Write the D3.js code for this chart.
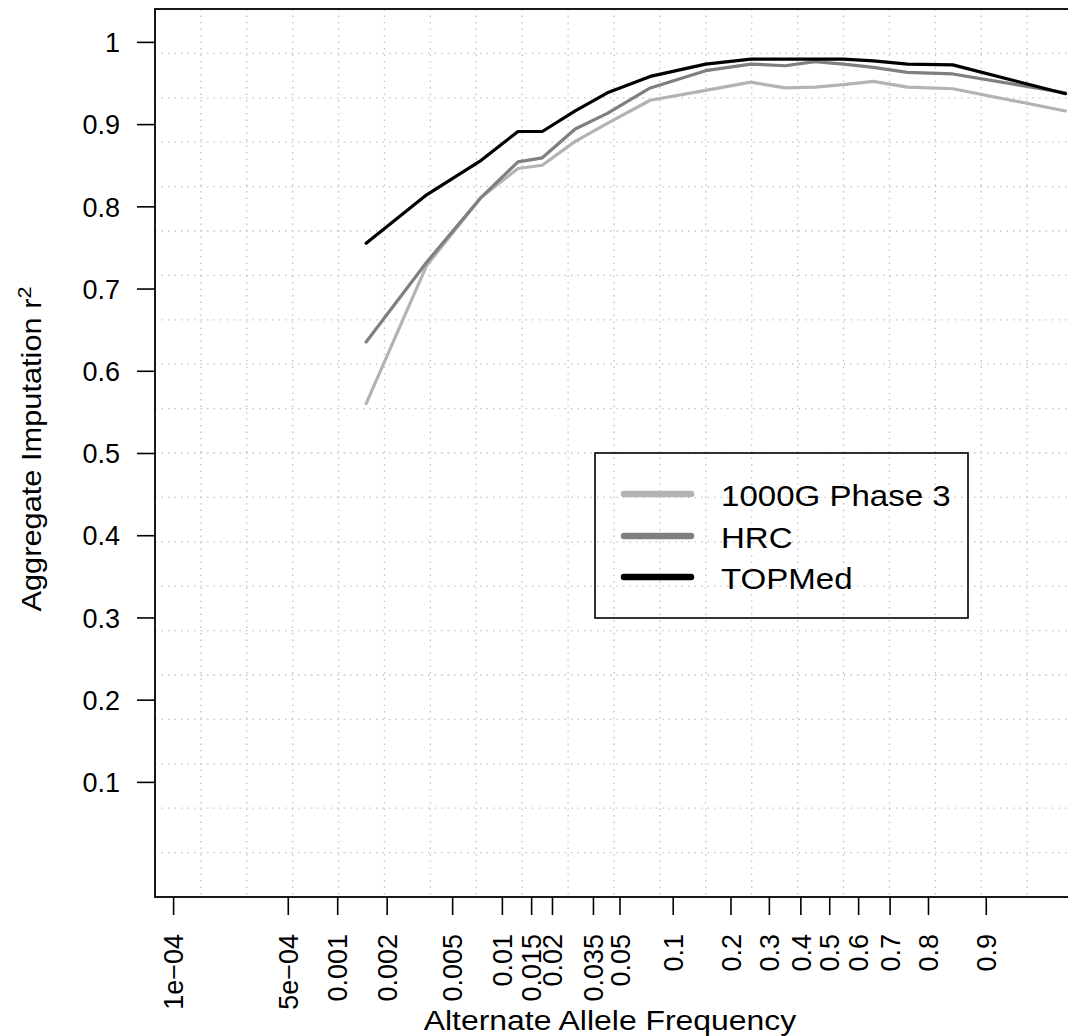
<!DOCTYPE html>
<html>
<head>
<meta charset="utf-8">
<script src="https://cdn.jsdelivr.net/npm/d3@7"></script>
<style>
  html, body { margin: 0; padding: 0; background: #ffffff; }
  svg { display: block; font-family: "Liberation Sans", Arial, Helvetica, sans-serif; }
</style>
</head>
<body>
<svg id="chart" width="1068" height="1036"></svg>
<script>
// Allele-frequency bins (bin centres) on the x axis
const freq = [0.0015, 0.0035, 0.0075, 0.0125, 0.0175, 0.0275, 0.0425, 0.075,
              0.15, 0.25, 0.35, 0.45, 0.55, 0.65, 0.75, 0.85, 0.965];

// Aggregate imputation r^2 per reference panel
const r2_1000G = [0.560, 0.728, 0.811, 0.846, 0.850, 0.879, 0.901, 0.929,
                  0.941, 0.951, 0.944, 0.945, 0.948, 0.952, 0.945, 0.943, 0.916];
const r2_HRC   = [0.635, 0.732, 0.811, 0.854, 0.859, 0.894, 0.913, 0.944,
                  0.965, 0.973, 0.971, 0.976, 0.973, 0.969, 0.963, 0.961, 0.938];
const r2_TOPMed = [0.755, 0.814, 0.856, 0.891, 0.891, 0.916, 0.938, 0.958,
                   0.973, 0.979, 0.979, 0.979, 0.979, 0.977, 0.973, 0.972, 0.937];

const seriesNames = ["1000G Phase 3", "HRC", "TOPMed"];
const seriesColors = ["#b3b3b3", "#7f7f7f", "#000000"];

// Axis ticks
const xTickValues = [1e-4, 5e-4, 0.001, 0.002, 0.005, 0.01, 0.015, 0.02, 0.035, 0.05,
                     0.1, 0.2, 0.3, 0.4, 0.5, 0.6, 0.7, 0.8, 0.9];
const xTickLabels = ["1e\u221204", "5e\u221204", "0.001", "0.002", "0.005", "0.01", "0.015",
                     "0.02", "0.035", "0.05", "0.1", "0.2", "0.3", "0.4", "0.5", "0.6",
                     "0.7", "0.8", "0.9"];
const yTickValues = [0.1, 0.2, 0.3, 0.4, 0.5, 0.6, 0.7, 0.8, 0.9, 1];
const yTickLabels = ["0.1", "0.2", "0.3", "0.4", "0.5", "0.6", "0.7", "0.8", "0.9", "1"];

// ---- layout ----
const plot = { left: 155, top: 9, right: 1073, bottom: 897 };
const svg = d3.select("#chart");
const wide = 1.14; // horizontal stretch of the word labels

// logit (base 10) transform for the frequency axis
const logit = p => Math.log10(p / (1 - p));

// x limits with the usual 4% padding on each side
const xlim = [logit(1.25e-4), logit(0.95)];
const pad = 0.04 * (xlim[1] - xlim[0]);
const xs = d3.scaleLinear().domain([xlim[0] - pad, xlim[1] + pad]).range([plot.left, plot.right]);
const x = p => xs(logit(p));

const ys = d3.scaleLinear().domain([-0.04, 1.04]).range([plot.bottom, plot.top]);

// clip region for the data
svg.append("defs").append("clipPath").attr("id", "plotclip")
  .append("rect")
  .attr("x", plot.left).attr("y", plot.top)
  .attr("width", plot.right - plot.left).attr("height", plot.bottom - plot.top);

// ---- dotted grid (20 x 20 divisions of the plot region) ----
const grid = svg.append("g").attr("stroke", "#c4c4c4").attr("stroke-width", 1.3)
  .attr("stroke-dasharray", "1.5,5");
const gx = d3.range(1, 20).map(i => xs.domain()[0] + i * (xs.domain()[1] - xs.domain()[0]) / 20);
const gy = d3.range(1, 20).map(i => ys.domain()[0] + i * (ys.domain()[1] - ys.domain()[0]) / 20);
grid.selectAll("line.v").data(gx).join("line").attr("class", "v")
  .attr("x1", d => xs(d)).attr("x2", d => xs(d))
  .attr("y1", plot.top).attr("y2", plot.bottom);
grid.selectAll("line.h").data(gy).join("line").attr("class", "h")
  .attr("y1", d => ys(d)).attr("y2", d => ys(d))
  .attr("x1", plot.left).attr("x2", plot.right);

// ---- series lines ----
const series = [r2_1000G, r2_HRC, r2_TOPMed];
const line = d3.line().x((d, i) => x(freq[i])).y(d => ys(d));
svg.append("g").attr("clip-path", "url(#plotclip)")
  .selectAll("path").data(series).join("path")
  .attr("d", d => line(d))
  .attr("fill", "none")
  .attr("stroke", (d, i) => seriesColors[i])
  .attr("stroke-width", 3.2)
  .attr("stroke-linejoin", "round")
  .attr("stroke-linecap", "round");

// ---- plot box ----
svg.append("rect")
  .attr("x", plot.left).attr("y", plot.top)
  .attr("width", plot.right - plot.left).attr("height", plot.bottom - plot.top)
  .attr("fill", "none").attr("stroke", "#000").attr("stroke-width", 1.8);

// ---- axes ----
const fontSize = 27;
const xAxis = d3.axisBottom(xs)
  .tickValues(xTickValues.map(logit))
  .tickFormat((d, i) => xTickLabels[i])
  .tickSize(18).tickSizeOuter(0);
const gX = svg.append("g").attr("transform", `translate(0,${plot.bottom})`).call(xAxis);
gX.select(".domain").remove();
gX.selectAll(".tick line").attr("stroke", "#000").attr("stroke-width", 1.6);
gX.selectAll(".tick text")
  .attr("transform", "rotate(-90)")
  .attr("x", -37).attr("y", 0).attr("dy", "0.36em")
  .attr("text-anchor", "end")
  .attr("fill", "#000")
  .style("font-size", fontSize + "px")
  .style("font-family", "'Liberation Sans', Arial, sans-serif");

const yAxis = d3.axisLeft(ys)
  .tickValues(yTickValues)
  .tickFormat((d, i) => yTickLabels[i])
  .tickSize(18).tickPadding(17).tickSizeOuter(0);
const gY = svg.append("g").attr("transform", `translate(${plot.left},0)`).call(yAxis);
gY.select(".domain").remove();
gY.selectAll(".tick line").attr("stroke", "#000").attr("stroke-width", 1.6);
gY.selectAll(".tick text")
  .attr("dy", "0.36em")
  .attr("fill", "#000")
  .style("font-size", fontSize + "px")
  .style("font-family", "'Liberation Sans', Arial, sans-serif");

// ---- axis titles ----
svg.append("text")
  .attr("transform", `translate(${(plot.left + plot.right) / 2 - 4},1030) scale(${wide},1)`)
  .attr("text-anchor", "middle")
  .style("font-size", "28px")
  .text("Alternate Allele Frequency");

const yTitle = svg.append("text")
  .attr("transform", `translate(41,${(plot.top + plot.bottom) / 2 - 4}) rotate(-90) scale(${wide},1)`)
  .attr("text-anchor", "middle")
  .style("font-size", "27px");
yTitle.append("tspan").text("Aggregate Imputation r");
yTitle.append("tspan").attr("dy", "-0.55em").style("font-size", "19px").text("2");

// ---- legend ----
const lg = { x: 595, y: 453, w: 373, h: 165 };
svg.append("rect")
  .attr("x", lg.x).attr("y", lg.y).attr("width", lg.w).attr("height", lg.h)
  .attr("fill", "none").attr("stroke", "#000").attr("stroke-width", 1.6);
const rowY = [494, 536, 577];
const legendRows = svg.append("g").selectAll("g").data(seriesNames).join("g");
legendRows.append("line")
  .attr("x1", 624).attr("x2", 691)
  .attr("y1", (d, i) => rowY[i]).attr("y2", (d, i) => rowY[i])
  .attr("stroke", (d, i) => seriesColors[i])
  .attr("stroke-width", 6.5).attr("stroke-linecap", "round");
legendRows.append("text")
  .attr("transform", (d, i) => `translate(721,${rowY[i] + 2}) scale(${wide},1)`)
  .attr("dy", "0.36em")
  .style("font-size", "29px")
  .text(d => d);
</script>
</body>
</html>
